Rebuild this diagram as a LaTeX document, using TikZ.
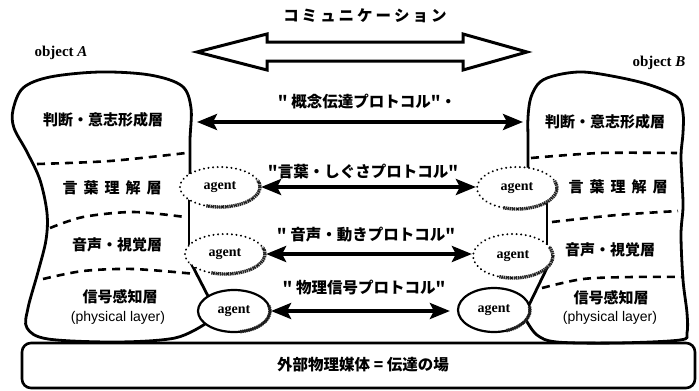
\documentclass[tikz,border=0pt]{standalone}
\usepackage{fontspec}
\setmainfont{Liberation Serif}
\newfontfamily\jp{Noto Sans CJK JP}
\newfontfamily\arialf{Liberation Sans}
\usetikzlibrary{arrows.meta,shapes.geometric}
\newcommand{\ks}{\hspace{3pt}}
\newcommand{\kw}{\hspace{6pt}}
\begin{document}
\begin{tikzpicture}[x=1pt,y=-1pt,
  outline/.style={line width=2.8pt, line join=round, line cap=round},
  layerdash/.style={line width=2.6pt, dash pattern=on 8pt off 6pt},
  jlabel/.style={inner sep=0, font={\jp\bfseries\fontsize{15}{15}\selectfont}},
  plabel/.style={inner sep=0, font={\jp\bfseries\fontsize{15.5}{15.5}\selectfont}},
  phys/.style={inner sep=0, font={\arialf\fontsize{14}{14}\selectfont}},
  objlabel/.style={inner sep=0, font={\bfseries\fontsize{15}{15}\selectfont}},
  agentbase/.style={ellipse, inner sep=0, fill=white, font={\bfseries\fontsize{14}{14}\selectfont}},
  agentdot/.style={agentbase, draw, line width=2.2pt, dash pattern=on 0.01pt off 4.6pt, line cap=round},
  agentsolid/.style={agentbase, draw, line width=2.2pt},
  shadearc/.style={line width=3.4pt, dash pattern=on 1.4pt off 0.7pt, black!85},
  proto/.style={line width=3.6pt, {Stealth[length=20pt,width=16pt,inset=4pt]}-{Stealth[length=20pt,width=16pt,inset=4pt]}},
  bigarrow/.style={line width=3pt, line join=miter, fill=white}
]
\path[use as bounding box] (0,0) rectangle (699,391);

% title and big hollow arrow
\node[plabel] (title) at (365,16) {コ\ks ミ\ks ュ\ks ニ\ks ケ\ks ー\ks シ\ks ョ\ks ン};
\draw[bigarrow] (197,52) -- (267,34) -- (267,42) -- (463,42) -- (463,34) -- (527,52)
  -- (463,70) -- (463,61) -- (267,61) -- (267,70) -- cycle;

\node[objlabel] (objA) at (61,53) {object \textit{A}};
\node[objlabel] (objB) at (659,63) {object \textit{B}};

% bottom medium
\draw[line width=2.6pt, rounded corners=9pt] (22,343) rectangle (695,388);
\node[plabel] (medium) at (363,365) {外部物理媒体 = 伝達の場};

% object A outline
\draw[outline] plot[smooth, tension=0.55] coordinates {(190,176) (190,140) (191,108) (182,86) (150,75) (100,72) (50,77) (23,88) (13,110) (14,128) (27,152) (40,180) (47,213) (46,240) (38,272) (28,308) (27,328) (48,339) (117,342) (175,338) (205,324)};
\draw[outline] (189,200) -- (189,245);
\draw[outline] (191,263) -- (209,298);

% object B outline
\draw[outline] plot[smooth, tension=0.55] coordinates {(528,170) (528,140) (528,117) (531,97) (540,82) (557,75) (583,72) (617,77) (650,85) (677,97) (683,113) (683,133) (681,155) (682,180) (683,207) (681,235) (683,280) (687,313) (687,333) (680,340) (617,343) (557,342) (537,335) (526,320)};
\draw[outline] (547,203) -- (547,245);
\draw[outline] (547,268) -- (529,305);

% layer boundaries
\draw[layerdash] plot[smooth] coordinates {(37,164) (110,161) (186,153)};
\draw[layerdash] plot[smooth] coordinates {(50,228) (83,217) (133,212) (185,217)};
\draw[layerdash] plot[smooth] coordinates {(43,279) (83,271) (133,269) (196,274)};
\draw[layerdash] plot[smooth] coordinates {(531,158) (600,153) (677,153)};
\draw[layerdash] plot[smooth] coordinates {(552,222) (617,215) (678,211)};
\draw[layerdash] plot[smooth] coordinates {(542,288) (583,279) (633,277) (684,277)};

% layer labels A
\node[jlabel] (a4l) at (103,120) {判断・意志形成層};
\node[jlabel] (a3l) at (112,188) {言\kw 葉\kw 理\kw 解\kw 層};
\node[jlabel] (a2l) at (117,245) {音声・視覚層};
\node[jlabel] (a1l) at (120,297) {信号感知層};
\node[phys] (a1p) at (118,318) {(physical layer)};
% layer labels B
\node[jlabel] (b4l) at (605,122) {判断・意志形成層};
\node[jlabel] (b3l) at (618,187) {言\kw 葉\kw 理\kw 解\kw 層};
\node[jlabel] (b2l) at (610,250) {音声・視覚層};
\node[jlabel] (b1l) at (611,298) {信号感知層};
\node[phys] (b1p) at (610,318) {(physical layer)};

% agents
\node[agentdot, minimum width=80pt, minimum height=40pt] (a1) at (220,187) {agent};
\node[agentdot, minimum width=80pt, minimum height=40pt] (a2) at (225,254) {agent};
\node[agentsolid, minimum width=72pt, minimum height=42pt] (a3) at (234,311) {agent};
\node[agentdot, minimum width=80pt, minimum height=42pt] (b1) at (517,188) {agent};
\node[agentdot, minimum width=80pt, minimum height=44pt] (b2) at (513,256) {agent};
\node[agentsolid, minimum width=72pt, minimum height=44pt] (b3) at (494,310) {agent};

% shading on agents
\draw[shadearc] ([shift={(-110:40pt and 20pt)}]a1.center) arc[start angle=-110, end angle=20, x radius=40pt, y radius=20pt];
\draw[shadearc] ([shift={(-110:40pt and 20pt)}]a2.center) arc[start angle=-110, end angle=20, x radius=40pt, y radius=20pt];
\draw[shadearc] ([shift={(-80:36pt and 21pt)}]a3.center) arc[start angle=-80, end angle=15, x radius=36pt, y radius=21pt];
\draw[shadearc] ([shift={(-110:40pt and 21pt)}]b1.center) arc[start angle=-110, end angle=20, x radius=40pt, y radius=21pt];
\draw[shadearc] ([shift={(-110:40pt and 22pt)}]b2.center) arc[start angle=-110, end angle=25, x radius=40pt, y radius=22pt];
\draw[shadearc] ([shift={(-70:36pt and 22pt)}]b3.center) arc[start angle=-70, end angle=10, x radius=36pt, y radius=22pt];

% protocols
\coordinate (pA) at (197,122);
\coordinate (pB) at (523,122);
\draw[proto] (pA) -- (pB);
\draw[proto] (a1.east) -- (a1.east -| b1.west);
\draw[proto] (a2.east) -- (a2.east -| b2.west);
\draw[proto, shorten >=7pt] (a3.east) -- (a3.east -| b3.west);

\node[plabel] (p1) at (367,102) {" 概念伝達プロトコル"・};
\node[plabel] (p2) at (363,172) {"言葉・しぐさプロトコル"};
\node[plabel] (p3) at (366,235) {" 音声・動きプロトコル"};
\node[plabel] (p4) at (364,288) {" 物理信号プロトコル"};
\end{tikzpicture}
\end{document}
